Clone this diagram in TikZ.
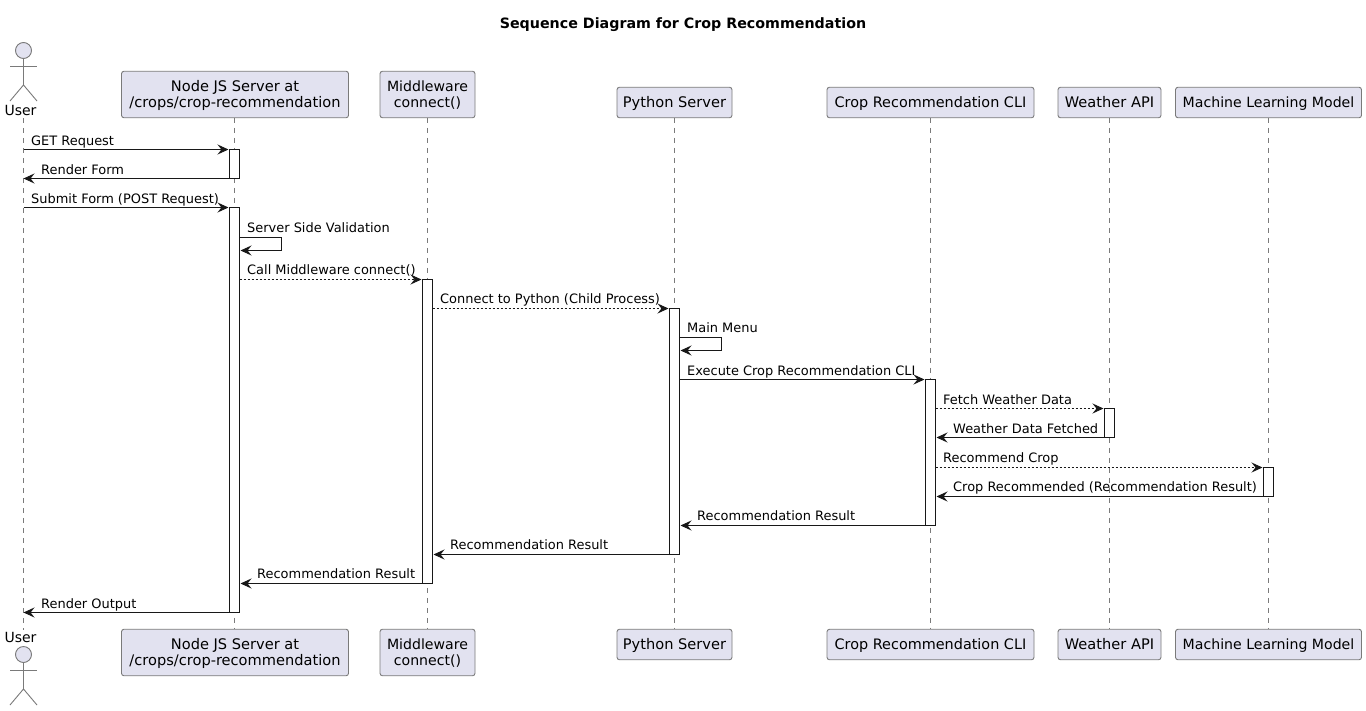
\documentclass[tikz,border=0pt]{standalone}
\usepackage{fontspec}
\setmainfont{DejaVu Sans}
\usetikzlibrary{arrows.meta}
\definecolor{partfill}{HTML}{E2E2F0}
\definecolor{ink}{HTML}{181818}
\definecolor{rim}{HTML}{7A7A7A}
\newcommand{\dn}[1]{\raisebox{0pt}[11.5pt][2.5pt]{#1}}
\tikzset{
  part/.style={draw=rim,fill=partfill,line width=0.9pt,rounded corners=2.5pt,inner sep=0pt,outer sep=0pt,align=center,font=\fontsize{14.6}{16}\selectfont},
  partb/.style={part,font=\fontsize{14.1}{16}\selectfont},
  partc/.style={part,font=\fontsize{14.4}{16}\selectfont},
  life/.style={draw=rim,line width=0.9pt,dash pattern=on 5pt off 5pt},
  bar/.style={draw=ink,fill=white,line width=1pt,minimum width=10pt,inner sep=0pt,outer sep=0pt},
  msg/.style={draw=ink,line width=1pt,-{Stealth[length=11pt,width=10pt,inset=4pt]},shorten >=1pt},
  back/.style={draw=ink,line width=1pt,-{Stealth[length=11pt,width=10pt,inset=4pt]}},
  dash msg/.style={msg,dash pattern=on 2pt off 2pt},
  lbl/.style={anchor=base west,inner sep=0pt,font=\fontsize{12.95}{15}\selectfont,text=black},
  actorline/.style={draw=rim,line width=0.9pt},
  actorhead/.style={circle,draw=rim,fill=partfill,line width=0.9pt,minimum size=16pt,inner sep=0pt},
  actorname/.style={inner sep=0pt,anchor=base,font=\fontsize{14}{16}\selectfont}
}
\begin{document}
\begin{tikzpicture}[x=1pt,y=-1pt]
\useasboundingbox (0,0) rectangle (1366,710);
\fill[white] (0,0) rectangle (1366,710);
\node[anchor=base,inner sep=0pt,font=\fontsize{14.25}{16}\selectfont\bfseries] (title) at (683,28) {Sequence Diagram for Crop Recommendation};
% top participants
\node[part,minimum width=227pt,minimum height=46.5pt] (t1) at (235,94.5) {\dn{Node JS Server at}\\\dn{/crops/crop-recommendation}};
\node[partb,minimum width=95pt,minimum height=46.5pt] (t2) at (427.5,94.5) {\dn{Middleware}\\\dn{connect()}};
\node[part,minimum width=115pt,minimum height=30.5pt] (t3) at (674.5,102.5) {\dn{Python Server}};
\node[partc,minimum width=207pt,minimum height=30.5pt] (t4) at (930.5,102.5) {\dn{Crop Recommendation CLI}};
\node[part,minimum width=103pt,minimum height=30.5pt] (t5) at (1109.5,102.5) {\dn{Weather API}};
\node[partb,minimum width=186pt,minimum height=30.5pt] (t6) at (1268.5,102.5) {\dn{Machine Learning Model}};
% bottom participants
\node[part,minimum width=227pt,minimum height=46.5pt] (b1) at (235,652.5) {\dn{Node JS Server at}\\\dn{/crops/crop-recommendation}};
\node[partb,minimum width=95pt,minimum height=46.5pt] (b2) at (427.5,652.5) {\dn{Middleware}\\\dn{connect()}};
\node[part,minimum width=115pt,minimum height=30.5pt] (b3) at (674.5,644.5) {\dn{Python Server}};
\node[partc,minimum width=207pt,minimum height=30.5pt] (b4) at (930.5,644.5) {\dn{Crop Recommendation CLI}};
\node[part,minimum width=103pt,minimum height=30.5pt] (b5) at (1109.5,644.5) {\dn{Weather API}};
\node[partb,minimum width=186pt,minimum height=30.5pt] (b6) at (1268.5,644.5) {\dn{Machine Learning Model}};
% actors
\node[actorhead] (uh) at (23.5,50.5) {};
\coordinate (ub) at (23.5,85);
\draw[actorline] (uh) -- (ub);
\draw[actorline] (10,66) -- (37,66);
\draw[actorline] (10,101) -- (ub) -- (37,101);
\node[actorname] (ut) at (20.5,115) {User};
\node[actorhead] (vh) at (23.5,654.5) {};
\coordinate (vb) at (23.5,689);
\draw[actorline] (vh) -- (vb);
\draw[actorline] (10,670) -- (37,670);
\draw[actorline] (10,705) -- (vb) -- (37,705);
\node[actorname] (vt) at (20.5,642.5) {User};
% lifelines
\coordinate (U) at (23.5,118);
\coordinate (V) at (23.5,630);
\coordinate (N) at (234.5,118);
\draw[life] (U) -- (V);
\draw[life] (N |- t1.south) -- (N |- b1.north);
\foreach \i in {2,...,6}{\draw[life] (t\i.south) -- (b\i.north);}
% activations
\node[bar,minimum height=29pt] (a1) at (234.5,164) {};
\node[bar,minimum height=405pt] (a2) at (234.5,410) {};
\node[bar,minimum height=304pt] (a3) at (427.5,431.5) {};
\node[bar,minimum height=246pt] (a4) at (674.5,431.5) {};
\node[bar,minimum height=146pt] (a5) at (930.5,452.5) {};
\node[bar,minimum height=29pt] (a6) at (1109.5,423) {};
\node[bar,minimum height=29pt] (a7) at (1268.5,482) {};
% messages
\draw[msg] (U |- a1.north) -- (a1.north west);
\draw[back] (a1.south west) -- (U |- a1.south);
\draw[msg] (U |- a2.north) -- (a2.north west);
\coordinate (s1) at (281.5,237.5);
\coordinate (s2) at (281.5,250.5);
\draw[back] (a2.east |- s1) -- (s1) -- (s2) -- ([xshift=1pt]a2.east |- s2);
\draw[dash msg] (a2.east |- a3.north) -- (a3.north west);
\draw[dash msg] (a3.east |- a4.north) -- (a4.north west);
\coordinate (m1) at (721.5,337.5);
\coordinate (m2) at (721.5,350.5);
\draw[back] (a4.east |- m1) -- (m1) -- (m2) -- ([xshift=1pt]a4.east |- m2);
\draw[msg] (a4.east |- a5.north) -- (a5.north west);
\draw[dash msg] (a5.east |- a6.north) -- (a6.north west);
\draw[back] (a6.south west) -- ([xshift=1pt]a5.east |- a6.south);
\draw[dash msg] (a5.east |- a7.north) -- (a7.north west);
\draw[back] (a7.south west) -- ([xshift=1pt]a5.east |- a7.south);
\draw[back] (a5.south west) -- ([xshift=1pt]a4.east |- a5.south);
\draw[back] (a4.south west) -- ([xshift=1pt]a3.east |- a4.south);
\draw[back] (a3.south west) -- ([xshift=1pt]a2.east |- a3.south);
\draw[back] (a2.south west) -- (U |- a2.south);
% labels
\node[lbl] (l1) at (31,145) {GET Request};
\node[lbl] (l2) at (41,174) {Render Form};
\node[lbl] (l3) at (31,203) {Submit Form (POST Request)};
\node[lbl] (l4) at (247,232) {Server Side Validation};
\node[lbl] (l5) at (247,274) {Call Middleware connect()};
\node[lbl] (l6) at (440,303) {Connect to Python (Child Process)};
\node[lbl] (l7) at (687,332) {Main Menu};
\node[lbl] (l8) at (687,375) {Execute Crop Recommendation CLI};
\node[lbl] (l9) at (943,404) {Fetch Weather Data};
\node[lbl] (l10) at (953,433) {Weather Data Fetched};
\node[lbl] (l11) at (943,462) {Recommend Crop};
\node[lbl] (l12) at (953,491) {Crop Recommended (Recommendation Result)};
\node[lbl] (l13) at (697,520) {Recommendation Result};
\node[lbl] (l14) at (450,549) {Recommendation Result};
\node[lbl] (l15) at (257,578) {Recommendation Result};
\node[lbl] (l16) at (41,608) {Render Output};
\end{tikzpicture}
\end{document}
